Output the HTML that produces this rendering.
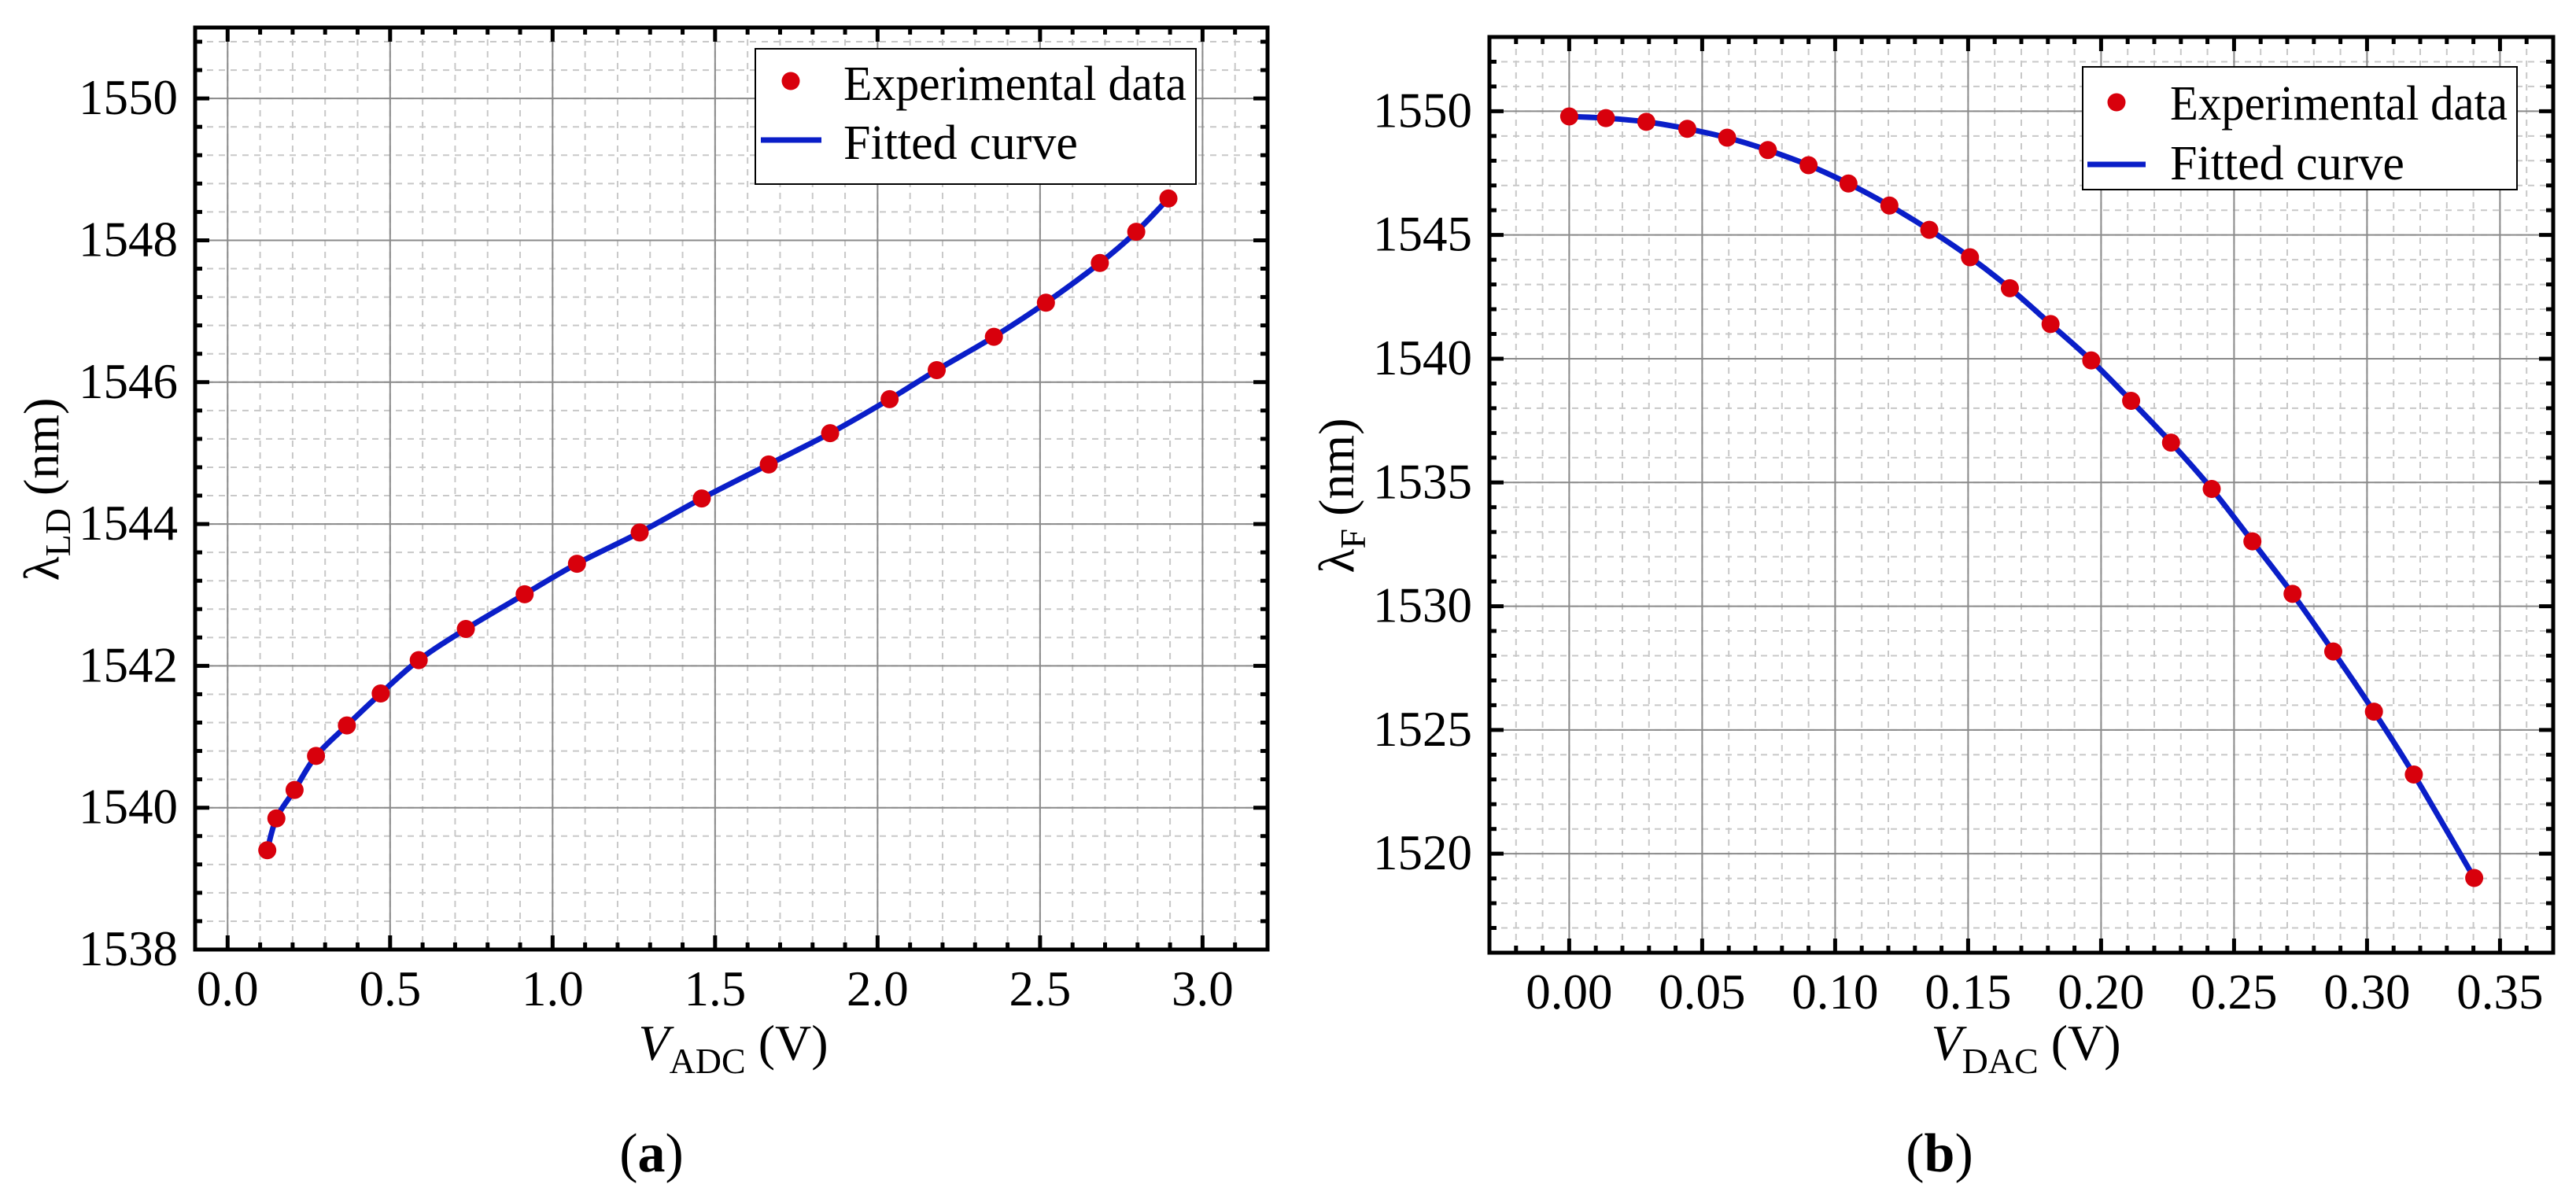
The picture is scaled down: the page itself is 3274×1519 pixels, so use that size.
<!DOCTYPE html>
<html><head><meta charset="utf-8">
<style>
html,body{margin:0;padding:0;background:#fff;}
svg{display:block;}
text{font-family:"Liberation Serif",serif;fill:#000;}
</style></head>
<body>
<svg id="fig" width="3274" height="1519" viewBox="0 0 3274 1519" xmlns="http://www.w3.org/2000/svg">
<rect x="0" y="0" width="3274" height="1519" fill="#fff"/>
<g id="pa"></g>
<g id="pb"></g>
<text x="828" y="1489" font-size="70" text-anchor="middle">(<tspan font-weight="bold">a</tspan>)</text>
<text x="2465" y="1489" font-size="70" text-anchor="middle">(<tspan font-weight="bold">b</tspan>)</text>
</svg>
<script>
// Panel (a) data
const aX = [0.122,0.150,0.206,0.272,0.367,0.471,0.588,0.733,0.914,1.075,1.268,1.459,1.665,1.854,2.037,2.182,2.358,2.518,2.684,2.796,2.895];
const aY = [1539.40,1539.85,1540.25,1540.73,1541.16,1541.61,1542.08,1542.52,1543.01,1543.44,1543.88,1544.36,1544.84,1545.28,1545.76,1546.17,1546.64,1547.12,1547.68,1548.12,1548.59];
const aXTicks = ["0.0","0.5","1.0","1.5","2.0","2.5","3.0"];
const aYTicks = ["1538","1540","1542","1544","1546","1548","1550"];
// Panel (b) data
const bX = [0,0.0138,0.029,0.0444,0.0594,0.0747,0.090,0.105,0.1204,0.1354,0.1507,0.1657,0.181,0.1963,0.2113,0.2263,0.2416,0.2569,0.272,0.2873,0.3026,0.3176,0.3403];
const bY = [1549.79,1549.72,1549.57,1549.29,1548.93,1548.43,1547.82,1547.08,1546.19,1545.21,1544.10,1542.85,1541.40,1539.93,1538.30,1536.61,1534.74,1532.62,1530.50,1528.17,1525.74,1523.20,1519.02];
const bXTicks = ["0.00","0.05","0.10","0.15","0.20","0.25","0.30","0.35"];
const bYTicks = ["1520","1525","1530","1535","1540","1545","1550"];

const NS="http://www.w3.org/2000/svg";
function mk(parent,tag,attrs){const e=document.createElementNS(NS,tag);for(const k in attrs)e.setAttribute(k,attrs[k]);parent.appendChild(e);return e;}

function panel(g,cfg,xs,ys,xt,yt,pfx){
  const {L,R,T,B,x0,x1,y0,y1,xMin,yMin}=cfg;
  const sx=v=>L+(v-x0)/(x1-x0)*(R-L);
  const sy=v=>B-(v-y0)/(y1-y0)*(B-T);
  const gm=mk(g,'g',{});
  
  
  const nx=Math.round((x1-x0)/xMin);
  for(let i=0;i<=nx;i++){const v=x0+i*xMin;const X=sx(v);if(X<=L+3||X>=R-3)continue;
    mk(gm,'line',{x1:X,y1:T,x2:X,y2:B,stroke:'#c8c8c8','stroke-width':2,'stroke-dasharray':'8,7'});}
  const ny=Math.round((y1-y0)/yMin);
  for(let i=0;i<=ny;i++){const v=y0+i*yMin;const Y=sy(v);if(Y<=T+3||Y>=B-3)continue;
    mk(gm,'line',{x1:L,y1:Y,x2:R,y2:Y,stroke:'#c8c8c8','stroke-width':2,'stroke-dasharray':'8,7'});}
  const gM=mk(g,'g',{});
  
  
  xt.forEach(t=>{const X=sx(parseFloat(t));mk(gM,'line',{x1:X,y1:T,x2:X,y2:B,stroke:'#8a8a8a','stroke-width':2});});
  yt.forEach(t=>{const Y=sy(parseFloat(t));mk(gM,'line',{x1:L,y1:Y,x2:R,y2:Y,stroke:'#8a8a8a','stroke-width':2});});
  const tk=mk(g,'g',{stroke:'#000','stroke-width':5});
  
  
  for(let i=0;i<=nx;i++){const v=x0+i*xMin;const X=sx(v);if(X<=L+3||X>=R-3)continue;
    const major=xt.some(t=>Math.abs(parseFloat(t)-v)<xMin/3);const len=major?18:9;
    mk(tk,'line',{x1:X,y1:B,x2:X,y2:B-len});mk(tk,'line',{x1:X,y1:T,x2:X,y2:T+len});}
  for(let i=0;i<=ny;i++){const v=y0+i*yMin;const Y=sy(v);if(Y<=T+3||Y>=B-3)continue;
    const major=yt.some(t=>Math.abs(parseFloat(t)-v)<yMin/3);const len=major?18:9;
    mk(tk,'line',{x1:L,y1:Y,x2:L+len,y2:Y});mk(tk,'line',{x1:R,y1:Y,x2:R-len,y2:Y});}
  xt.forEach(t=>{const e=mk(g,'text',{x:sx(parseFloat(t)),y:B+71,'font-size':63,'text-anchor':'middle'});e.textContent=t;
    
    });
  yt.forEach(t=>{const e=mk(g,'text',{x:L-22,y:sy(parseFloat(t))+20,'font-size':63,'text-anchor':'end'});e.textContent=t;
    
    });
  const P=xs.map((v,i)=>[sx(v),sy(ys[i])]);
  let d='M'+P[0][0]+','+P[0][1];
  for(let i=0;i<P.length-1;i++){const p0=P[Math.max(0,i-1)],p1=P[i],p2=P[i+1],p3=P[Math.min(P.length-1,i+2)];
    const c1=[p1[0]+(p2[0]-p0[0])/6,p1[1]+(p2[1]-p0[1])/6],c2=[p2[0]-(p3[0]-p1[0])/6,p2[1]-(p3[1]-p1[1])/6];
    d+=' C'+c1[0]+','+c1[1]+' '+c2[0]+','+c2[1]+' '+p2[0]+','+p2[1];}
  const cv=mk(g,'path',{d:d,fill:'none',stroke:'#0a1ec8','stroke-width':7});
  
  
  const pts=mk(g,'g',{fill:'#d8000c'});
  
  
  P.forEach(p=>{const c=mk(pts,'circle',{cx:p[0],cy:p[1],r:11.5});
    
    });
  const fr=mk(g,'rect',{x:L,y:T,width:R-L,height:B-T,fill:'none',stroke:'#000','stroke-width':5});
  
  
}

const ga=document.getElementById('pa'), gb=document.getElementById('pb');
panel(ga,{L:248,R:1611,T:35,B:1207,x0:-0.1,x1:3.2,y0:1538,y1:1551,xMin:0.1,yMin:0.4},aX,aY,aXTicks,aYTicks,'a');
panel(gb,{L:1893,R:3245,T:47,B:1211,x0:-0.03,x1:0.37,y0:1516,y1:1553,xMin:0.01,yMin:1},bX,bY,bXTicks,bYTicks,'b');

function legend(g,pfx,bx,by,bw,bh,mx,my,lx1,lx2,ly,tx,ty1,ty2){
  const lg=mk(g,'g',{});
  
  
  mk(lg,'rect',{x:bx,y:by,width:bw,height:bh,fill:'#fff',stroke:'#000','stroke-width':2});
  mk(lg,'circle',{cx:mx,cy:my,r:11.5,fill:'#d8000c'});
  mk(lg,'line',{x1:lx1,y1:ly,x2:lx2,y2:ly,stroke:'#0a1ec8','stroke-width':7});
  const t1=mk(lg,'text',{x:tx,y:ty1,'font-size':62,textLength:bx+bw-tx-12,lengthAdjust:'spacingAndGlyphs'});t1.textContent='Experimental data';
  
  
  const t2=mk(lg,'text',{x:tx,y:ty2,'font-size':62});t2.textContent='Fitted curve';
  
  
}
legend(ga,'a',960,62,560,172,1005,103,967,1044,178,1072,127,202);
legend(gb,'b',2647,85,552,156,2690,130,2653,2727,209,2758,152,228);

function xlabel(g,pfx,cx,y,sub){
  const t=mk(g,'text',{x:cx,y:y,'font-size':64,'text-anchor':'middle'});
  t.innerHTML='<tspan font-style="italic">V</tspan><tspan font-size="46" dy="17">'+sub+'</tspan><tspan dy="-17"> (V)</tspan>';
  
  
}
function ylabel(g,pfx,x,cy,sub){
  const t=mk(g,'text',{x:0,y:0,'font-size':64,'text-anchor':'middle',transform:'translate('+x+','+cy+') rotate(-90)'});
  t.innerHTML='λ<tspan font-size="46" dy="15">'+sub+'</tspan><tspan dy="-15"> (nm)</tspan>';
  
  
}
xlabel(ga,'a',932,1347,'ADC');
xlabel(gb,'b',2575,1347,'DAC');
ylabel(ga,'a',74,622,'LD');
ylabel(gb,'b',1720,630,'F');
</script>
</body></html>
